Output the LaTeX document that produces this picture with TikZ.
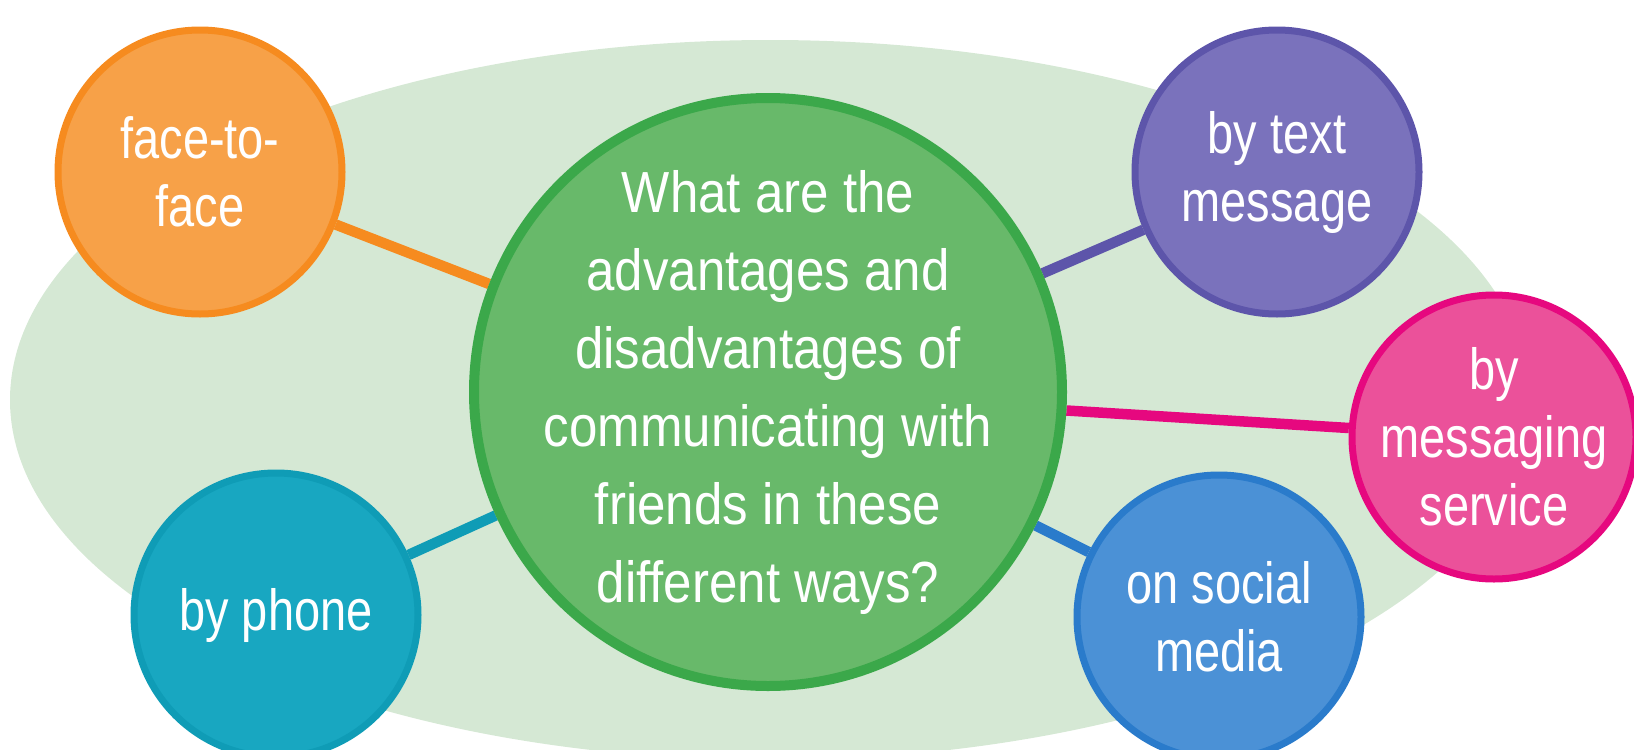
\documentclass[tikz,border=0pt]{standalone}
\usepackage{fontspec}
\newfontfamily\hubfont{Liberation Sans}[FakeStretch=0.88]
\newfontfamily\spokefont{Liberation Sans}[FakeStretch=0.81]
\usetikzlibrary{shapes.geometric,backgrounds}

\definecolor{fieldgreen}{HTML}{D5E8D4}
\definecolor{hubfill}{HTML}{68B96A}
\definecolor{hubline}{HTML}{3BA84A}
\definecolor{facefill}{HTML}{F7A148}
\definecolor{faceline}{HTML}{F68B1F}
\definecolor{textfill}{HTML}{7A72BC}
\definecolor{textline}{HTML}{5D55AA}
\definecolor{msgfill}{HTML}{EB519A}
\definecolor{msgline}{HTML}{E6087F}
\definecolor{socialfill}{HTML}{4B91D6}
\definecolor{socialline}{HTML}{2A7BCB}
\definecolor{phonefill}{HTML}{18A7C1}
\definecolor{phoneline}{HTML}{0F9CB6}

\begin{document}
\begin{tikzpicture}[
  x=1pt, y=-1pt,
  hub/.style={circle, draw=hubline, fill=hubfill, line width=10pt, minimum size=588pt, inner sep=-40pt, text=white, align=center, font=\hubfont\fontsize{58}{78}\selectfont},
  spoke/.style={circle, line width=7pt, minimum size=284pt, inner sep=-20pt, text=white, align=center, font=\spokefont\fontsize{58}{68}\selectfont},
  link/.style={line width=10.5pt},
  field/.style={ellipse, fill=fieldgreen, minimum width=1520pt, minimum height=720pt, inner sep=0pt}
]
  \useasboundingbox (0,0) rectangle (1634,750);
  \clip (0,0) rectangle (1634,750);

  % Centre question
  \node[hub] (hub) at (768,392) {What are the\\advantages and\\disadvantages of\\communicating with\\friends in these\\different ways?};

  % Ways of communicating
  \node[spoke, draw=faceline, fill=facefill] (face) at (200,172) {face-to-\\face};
  \node[spoke, draw=textline, fill=textfill] (text) at (1277,172) {by text\\message};
  \node[spoke, draw=msgline, fill=msgfill] (msg) at (1494,437) {by\\messaging\\service};
  \node[spoke, draw=socialline, fill=socialfill] (social) at (1219,617) {on social\\media};
  \node[spoke, draw=phoneline, fill=phonefill] (phone) at (276,615) {by phone};

  % Backdrop and links
  \begin{pgfonlayer}{background}
    \node[field] (backdrop) at (770,400) {};
    \draw[link, faceline] (hub) -- (face);
    \draw[link, textline] (hub) -- (text);
    \draw[link, msgline] (hub) -- (msg);
    \draw[link, socialline] (hub) -- (social);
    \draw[link, phoneline] (hub) -- (phone);
  \end{pgfonlayer}
\end{tikzpicture}
\end{document}
